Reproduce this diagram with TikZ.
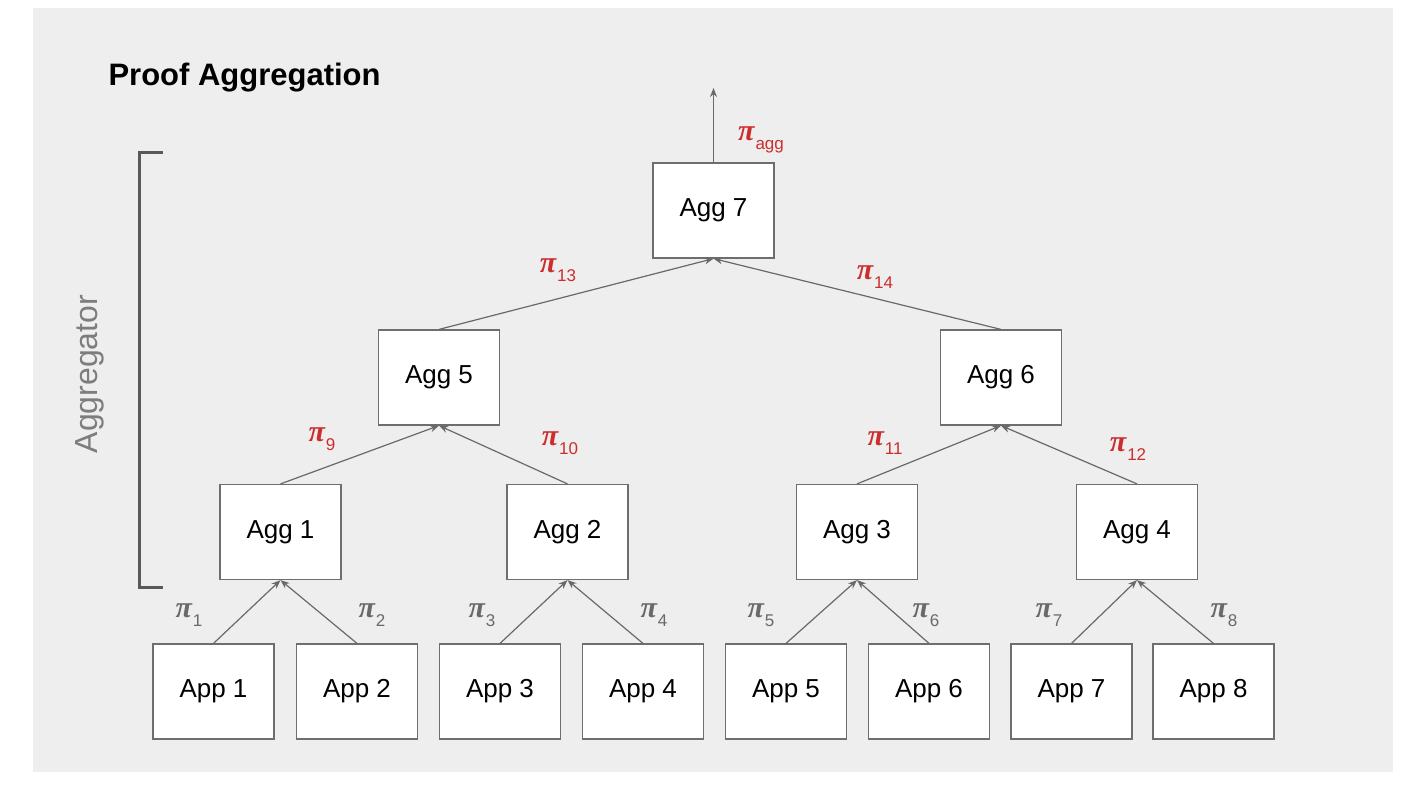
\documentclass[tikz,border=0pt]{standalone}
\usepackage{xcolor}
\usepackage{fontspec}
\setmainfont{Liberation Sans}
\newfontfamily\pifont{Liberation Serif}
\usepackage{tikz}
\usetikzlibrary{positioning, arrows.meta}

\definecolor{bggray}{RGB}{238,238,238}
\definecolor{linegray}{RGB}{105,105,105}
\definecolor{boxgray}{RGB}{110,110,110}
\definecolor{pired}{RGB}{204,45,45}
\definecolor{pigray}{RGB}{105,105,105}
\definecolor{sidegray}{RGB}{125,125,125}

\newcommand{\prf}[1]{{\pifont\bfseries\itshape\fontsize{30}{34}\selectfont π}\kern1pt\raisebox{-9pt}{\fontsize{17}{20}\selectfont #1}}

\begin{document}
\begin{tikzpicture}[x=1pt, y=-1pt]
			\tikzstyle{box}=[draw=boxgray, line width=1.2pt, fill=white, minimum width=121pt, minimum height=95pt, inner sep=0pt, font=\fontsize{26}{30}\selectfont]
			\tikzstyle{pilow}=[text=pigray, inner sep=0pt]
			\tikzstyle{pihigh}=[text=pired, inner sep=0pt]
			\tikzstyle{link}=[draw=linegray, line width=1.2pt, -{Stealth[length=9pt, width=7pt]}]
			% canvas
			\fill[white] (0,0) rectangle (1418,792);
			\fill[bggray] (33,8) rectangle (1393,772);
			\useasboundingbox (0,0) rectangle (1418,792);
			\node[anchor=base west, font=\fontsize{31}{36}\selectfont\bfseries](title) at (105,85) {Proof Aggregation};
			% bracket
			\draw[draw=black!65, line width=3pt] (163,152) -- (139,152) -- (139,587) -- (163,587);
			\node[rotate=90, text=sidegray, font=\fontsize{32}{38}\selectfont](side) at (90,374) {Aggregator};
			% apps
			\node[box](a1) at (213.5,691.5) {App 1};
			\node[box](a2) at (357,691.5) {App 2};
			\node[box](a3) at (500,691.5) {App 3};
			\node[box](a4) at (643,691.5) {App 4};
			\node[box](a5) at (786,691.5) {App 5};
			\node[box](a6) at (929,691.5) {App 6};
			\node[box](a7) at (1071.5,691.5) {App 7};
			\node[box](a8) at (1213.5,691.5) {App 8};
			% aggregators
			\node[box](g1) at (280.5,532) {Agg 1};
			\node[box](g2) at (567.5,532) {Agg 2};
			\node[box](g3) at (857,532) {Agg 3};
			\node[box](g4) at (1137,532) {Agg 4};
			\node[box](g5) at (439,377.5) {Agg 5};
			\node[box](g6) at (1001,377.5) {Agg 6};
			\node[box](g7) at (713.5,210.5) {Agg 7};
			\coordinate (out) at (713.5,88);
			\path
				(a1.north) edge[link] (g1.south)
				(a2.north) edge[link] (g1.south)
				(a3.north) edge[link] (g2.south)
				(a4.north) edge[link] (g2.south)
				(a5.north) edge[link] (g3.south)
				(a6.north) edge[link] (g3.south)
				(a7.north) edge[link] (g4.south)
				(a8.north) edge[link] (g4.south)
				(g1.north) edge[link] (g5.south)
				(g2.north) edge[link] (g5.south)
				(g3.north) edge[link] (g6.south)
				(g4.north) edge[link] (g6.south)
				(g5.north) edge[link] (g7.south)
				(g6.north) edge[link] (g7.south)
				(g7.north) edge[link] (out);
			% proofs
			\node[pilow](p1) at (189,615) {\prf{1}};
			\node[pilow](p2) at (372,615) {\prf{2}};
			\node[pilow](p3) at (482,615) {\prf{3}};
			\node[pilow](p4) at (654,615) {\prf{4}};
			\node[pilow](p5) at (761,615) {\prf{5}};
			\node[pilow](p6) at (926,615) {\prf{6}};
			\node[pilow](p7) at (1049,615) {\prf{7}};
			\node[pilow](p8) at (1224,615) {\prf{8}};
			\node[pihigh](p9) at (322,439) {\prf{9}};
			\node[pihigh](p10) at (560,443) {\prf{10}};
			\node[pihigh](p11) at (885,443) {\prf{11}};
			\node[pihigh](p12) at (1128,449) {\prf{12}};
			\node[pihigh](p13) at (558,270) {\prf{13}};
			\node[pihigh](p14) at (875,277) {\prf{14}};
			\node[pihigh](pagg) at (761,140) {\prf{agg}};
		\end{tikzpicture}
\end{document}
